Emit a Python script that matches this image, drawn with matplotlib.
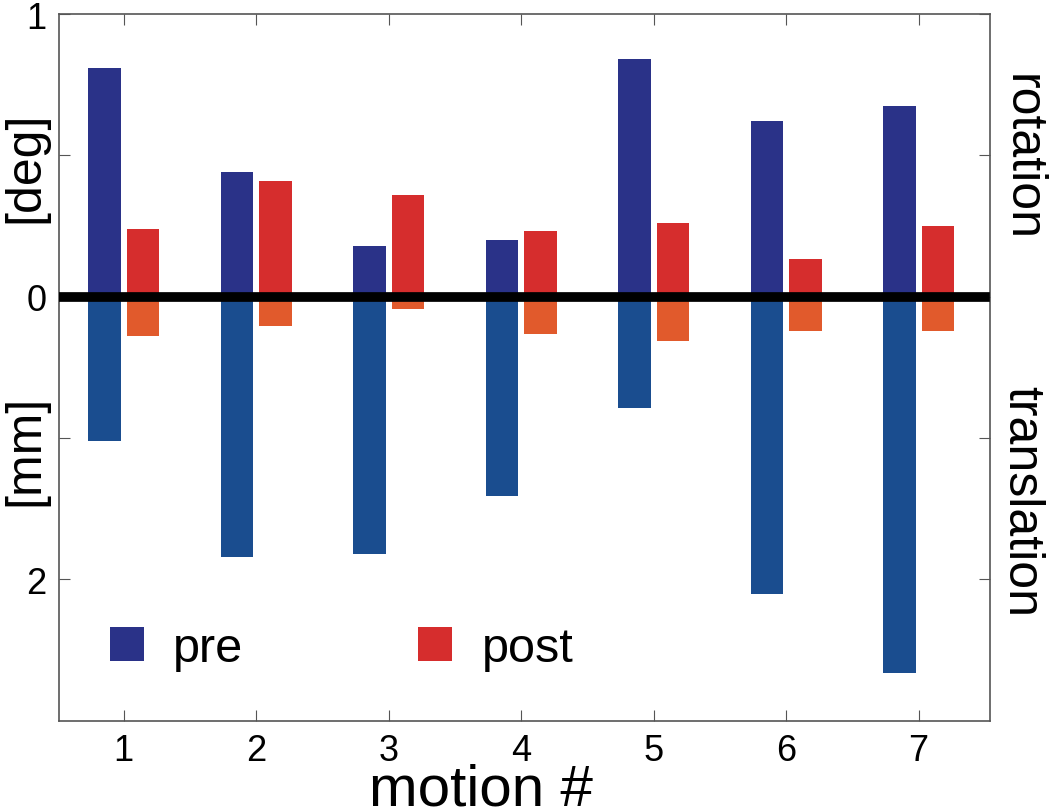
import numpy as np
import matplotlib
matplotlib.use("Agg")
import matplotlib.pyplot as plt
from matplotlib.patches import Patch

plt.rcParams['font.family'] = ['Liberation Sans', 'DejaVu Sans']

# motion index
motions = [1, 2, 3, 4, 5, 6, 7]

# rotation [deg], plotted upward
rot_pre = [0.81, 0.44, 0.18, 0.20, 0.84, 0.62, 0.675]
rot_post = [0.24, 0.41, 0.36, 0.233, 0.262, 0.132, 0.249]

# translation [mm], plotted downward
trans_pre = [1.02, 1.84, 1.82, 1.41, 0.79, 2.10, 2.66]
trans_post = [0.28, 0.21, 0.085, 0.26, 0.31, 0.245, 0.243]

ytick_pos = [1, 0.5, 0, -0.5, -1]
ytick_labels = ["1", "", "0", "", "2"]

C_ROT_PRE = "#2a3288"
C_TRANS_PRE = "#1a4d8f"
C_ROT_POST = "#d62d2d"
C_TRANS_POST = "#e15a2c"

# 1 mm on the lower half takes the same space as 0.5 deg on the upper half
MM_SCALE = 0.5

fig = plt.figure(figsize=(10.5, 8.12), dpi=100)
ax = fig.add_axes([0.056, 0.111, 0.887, 0.8705])

x = np.array(motions, dtype=float)
w = 0.245
off = 0.145

ax.bar(x - off, rot_pre, w, color=C_ROT_PRE, zorder=2)
ax.bar(x - off, -np.array(trans_pre) * MM_SCALE, w, color=C_TRANS_PRE, zorder=2)
ax.bar(x + off, rot_post, w, color=C_ROT_POST, zorder=2)
ax.bar(x + off, -np.array(trans_post) * MM_SCALE, w, color=C_TRANS_POST, zorder=2)

ax.axhline(0, xmin=0, xmax=0.994, color="black", lw=7, zorder=3)

ax.set_xlim(0.51, 7.54)
ax.set_ylim(-1.5, 1.0)
ax.set_xticks(motions)
ax.set_xticklabels([str(m) for m in motions])
ax.set_yticks(ytick_pos)
ax.set_yticklabels(ytick_labels)

ax.tick_params(direction="in", length=8, width=0.8, color="#555555",
               top=True, right=True, labelsize=26, pad=9)
for s in ax.spines.values():
    s.set_color("#555555")
    s.set_linewidth(1.2)

handles = [Patch(facecolor=C_ROT_PRE, label="pre"),
           Patch(facecolor=C_ROT_POST, label="post")]
ax.legend(handles=handles, loc="center left", bbox_to_anchor=(0.055, 0.103),
          ncol=2, frameon=False, fontsize=35, handlelength=0.7,
          handleheight=0.7, handletextpad=0.6, columnspacing=3.6,
          borderpad=0, borderaxespad=0)

fig.text(0.024, 1 - 167 / 812, "[deg]", rotation=90, ha="center", va="center", fontsize=36)
fig.text(0.024, 1 - 450 / 812, "[mm]", rotation=90, ha="center", va="center", fontsize=36)
fig.text(0.973, 1 - 157 / 812, "rotation", rotation=-90, ha="center", va="center", fontsize=36)
fig.text(0.973, 1 - 502 / 812, "translation", rotation=-90, ha="center", va="center", fontsize=36)
fig.text(481 / 1050, 6 / 812, "motion #", ha="center", va="baseline", fontsize=42)

fig.savefig("out.png", dpi=100)
